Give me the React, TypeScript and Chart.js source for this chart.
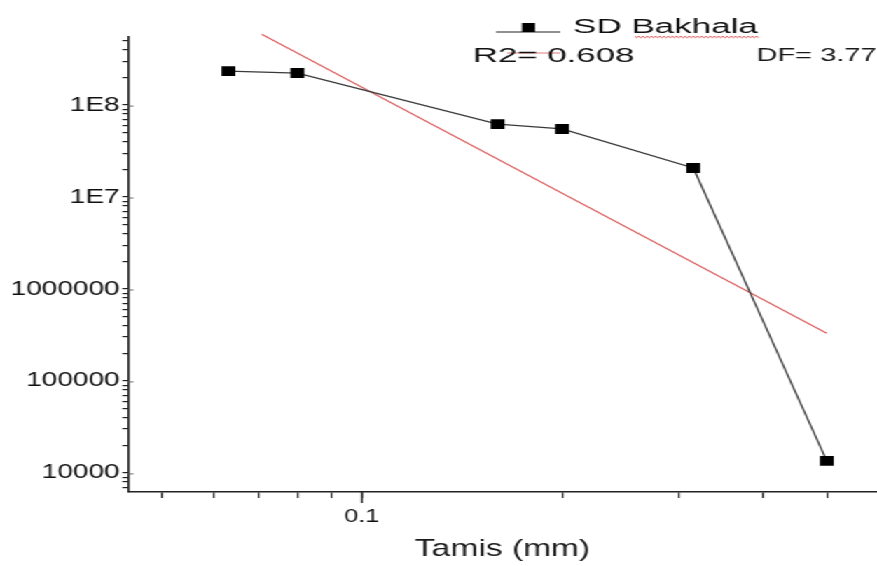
import React, { useEffect, useRef } from "react";
import { Chart, registerables } from "chart.js";

Chart.register(...registerables);

// ---- data ----
const sieveSizes = [0.063, 0.08, 0.16, 0.2, 0.315, 0.5];
const particleCounts = [2.34e8, 2.23e8, 6.2e7, 5.5e7, 2.07e7, 1.35e4];
const fitSizes = [0.0707, 0.5];
const fitCounts = [5.9e8, 3.3e5];

const xMajorTicks = [0.1];
const xMajorLabels = ["0.1"];
const xMinorTicks = [0.05, 0.06, 0.07, 0.08, 0.09, 0.2, 0.3, 0.4, 0.5];
const yMajorTicks = [1e4, 1e5, 1e6, 1e7, 1e8];
const yMajorLabels = ["10000", "100000", "1000000", "1E7", "1E8"];
const yMinorMantissas = [2, 3, 4, 5, 6, 7, 8, 9];
const yMinorDecades = [1e3, 1e4, 1e5, 1e6, 1e7, 1e8];

const seriesName = "SD Bakhala";
const r2Text = "R2= 0.608";
const dfText = "DF= 3.77";
const xTitle = "Tamis (mm)";

// ---- layout ----
const STRETCH = 877 / 626;
const W = 626;
const H = 566;
const FONT = '"Liberation Sans", Arial, Helvetica, sans-serif';

const X_MIN = 0.0445;
const X_MAX = 0.595;
const Y_MIN = 6200;
const Y_MAX = 5.5e8;

const near = (a: number, b: number) => Math.abs(a - b) <= Math.abs(b) * 1e-6;

function labelFor(v: number, majors: number[], labels: string[]) {
  const i = majors.findIndex((m) => near(v, m));
  return i >= 0 ? labels[i] : "";
}

function drawText(
  ctx: CanvasRenderingContext2D,
  text: string,
  x: number,
  y: number,
  size: number,
  sx: number,
  color: string
) {
  ctx.save();
  ctx.translate(x, y);
  ctx.scale(sx, 1);
  ctx.font = `${size}px ${FONT}`;
  ctx.fillStyle = color;
  ctx.textAlign = "left";
  ctx.textBaseline = "alphabetic";
  ctx.fillText(text, 0, 0);
  ctx.restore();
}

const overlayPlugin = {
  id: "overlay",
  afterDraw(chart: any) {
    const ctx: CanvasRenderingContext2D = chart.ctx;
    const xs = chart.scales.x;
    const ys = chart.scales.y;
    ctx.save();
    ctx.strokeStyle = "#222";
    ctx.lineWidth = 1.2;
    // longer major x tick
    xMajorTicks.forEach((v) => {
      const px = xs.getPixelForValue(v);
      ctx.beginPath();
      ctx.moveTo(px, ys.bottom);
      ctx.lineTo(px, ys.bottom + 11);
      ctx.stroke();
    });
    // small inward marks at major y ticks
    ctx.strokeStyle = "#666";
    ctx.lineWidth = 1;
    yMajorTicks.forEach((v) => {
      const py = ys.getPixelForValue(v);
      ctx.beginPath();
      ctx.moveTo(xs.left, py + 1);
      ctx.lineTo(xs.left + 4, py + 1);
      ctx.stroke();
    });

    // legend: data series sample
    ctx.strokeStyle = "#222";
    ctx.lineWidth = 1.2;
    ctx.beginPath();
    ctx.moveTo(354, 32);
    ctx.lineTo(400, 32);
    ctx.stroke();
    ctx.fillStyle = "#000";
    ctx.fillRect(372.6, 23, 9.3, 9);
    drawText(ctx, seriesName, 409, 33, 20, 1.25, "#111");
    // red squiggle under "Bakhala"
    ctx.strokeStyle = "#d9383a";
    ctx.lineWidth = 0.9;
    ctx.beginPath();
    for (let x = 453, k = 0; x <= 542; x += 1.5, k++) {
      const y = 37 + (k % 2 === 0 ? -0.7 : 0.7);
      if (k === 0) ctx.moveTo(x, y);
      else ctx.lineTo(x, y);
    }
    ctx.stroke();

    // legend: fit sample
    ctx.strokeStyle = "#e07a7a";
    ctx.lineWidth = 1;
    ctx.beginPath();
    ctx.moveTo(362, 53);
    ctx.lineTo(400, 53);
    ctx.stroke();
    drawText(ctx, r2Text, 337.6, 62, 20, 1.24, "#111");
    drawText(ctx, dfText, 540, 61, 19, 1.09, "#1a1a1a");
    ctx.restore();
  },
};

export default function App() {
  const canvasRef = useRef<HTMLCanvasElement | null>(null);

  useEffect(() => {
    const canvas = canvasRef.current;
    if (!canvas) return;

    const yMinorTicks: number[] = [];
    yMinorDecades.forEach((d) =>
      yMinorMantissas.forEach((m) => {
        const v = m * d;
        if (v >= Y_MIN && v <= Y_MAX) yMinorTicks.push(v);
      })
    );

    const chart = new Chart(canvas, {
      type: "line",
      data: {
        datasets: [
          {
            label: seriesName,
            data: sieveSizes.map((x, i) => ({ x, y: particleCounts[i] })),
            borderColor: "#3a3a3a",
            borderWidth: 1.3,
            pointStyle: "rect",
            pointRadius: 7,
            pointBackgroundColor: "#000",
            pointBorderColor: "#000",
            pointBorderWidth: 0,
            tension: 0,
            fill: false,
          },
          {
            label: "fit",
            data: fitSizes.map((x, i) => ({ x, y: fitCounts[i] })),
            borderColor: "#dc6464",
            borderWidth: 1.3,
            pointRadius: 0,
            tension: 0,
            fill: false,
            clip: false as any,
          },
        ],
      },
      options: {
        animation: false,
        responsive: false,
        devicePixelRatio: 1,
        layout: {
          autoPadding: false,
          padding: { top: 37, left: 0, right: 0, bottom: 0 },
        },
        plugins: {
          legend: { display: false },
          tooltip: { enabled: false },
        },
        scales: {
          x: {
            type: "logarithmic",
            min: X_MIN,
            max: X_MAX,
            afterBuildTicks: (s: any) => {
              s.ticks = [...xMinorTicks, ...xMajorTicks]
                .sort((a, b) => a - b)
                .map((v) => ({ value: v }));
            },
            afterFit: (s: any) => {
              s.height = 74;
              s.paddingLeft = 0;
              s.paddingRight = 0;
            },
            grid: {
              display: true,
              drawOnChartArea: false,
              drawTicks: true,
              tickLength: 6,
              color: "#222",
              lineWidth: 1.2,
            },
            border: { display: true, color: "#222", width: 1.5 },
            ticks: {
              autoSkip: false,
              maxRotation: 0,
              minRotation: 0,
              padding: 8,
              color: "#111",
              font: { family: FONT, size: 18 },
              callback: (v: any) => labelFor(Number(v), xMajorTicks, xMajorLabels),
            },
            title: {
              display: true,
              text: xTitle,
              color: "#1a1a1a",
              font: { family: FONT, size: 24 },
              padding: { top: 0, bottom: 2 },
            },
          },
          y: {
            type: "logarithmic",
            min: Y_MIN,
            max: Y_MAX,
            afterBuildTicks: (s: any) => {
              s.ticks = [...yMinorTicks, ...yMajorTicks]
                .sort((a, b) => a - b)
                .map((v) => ({ value: v }));
            },
            afterFit: (s: any) => {
              s.width = 91.4;
              s.paddingTop = 0;
              s.paddingBottom = 0;
            },
            grid: {
              display: true,
              drawOnChartArea: false,
              drawTicks: true,
              tickLength: 4,
              color: "#222",
              lineWidth: 1.2,
            },
            border: { display: true, color: "#222", width: 1.5 },
            ticks: {
              autoSkip: false,
              padding: 2,
              color: "#111",
              font: { family: FONT, size: 20 },
              callback: (v: any) => labelFor(Number(v), yMajorTicks, yMajorLabels),
            },
          },
        },
      },
      plugins: [overlayPlugin],
    });

    return () => chart.destroy();
  }, []);

  return (
    <div
      style={{
        position: "absolute",
        left: 0,
        top: 0,
        width: W,
        height: H,
        transform: `scaleX(${STRETCH})`,
        transformOrigin: "0 0",
        background: "#fff",
      }}
    >
      <canvas ref={canvasRef} width={W} height={H} style={{ display: "block" }} />
    </div>
  );
}
